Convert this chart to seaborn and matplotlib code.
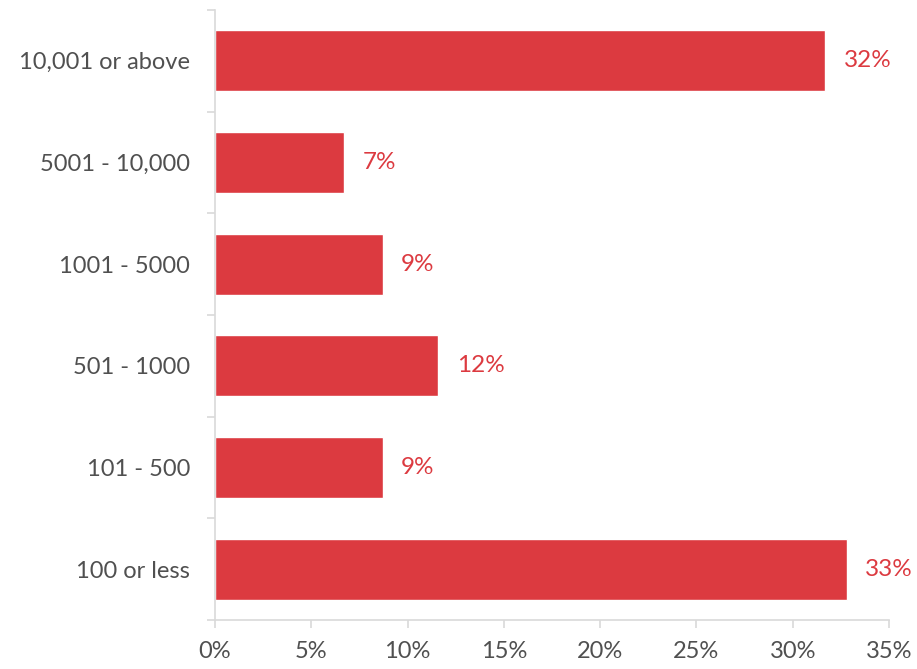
import matplotlib
matplotlib.use("Agg")
import matplotlib.pyplot as plt
import seaborn as sns
import pandas as pd
import numpy as np
from matplotlib.ticker import FixedLocator, PercentFormatter

categories = ["10,001 or above", "5001 - 10,000", "1001 - 5000", "501 - 1000", "101 - 500", "100 or less"]
shares = [31.7, 6.7, 8.7, 11.6, 8.7, 32.8]
x_ticks = [0, 5, 10, 15, 20, 25, 30, 35]

bar_color = "#DC3A40"
text_gray = "#505050"
axis_gray = "#D9D9D9"

sns.set_theme(style="white")
plt.rcParams["font.family"] = ["Lato", "DejaVu Sans"]

df = pd.DataFrame({"size": categories, "share": shares})

fig = plt.figure(figsize=(9.17, 6.69), dpi=100)
ax = fig.add_axes([0.2345, 0.0732, 0.735, 0.912])

sns.barplot(data=df, x="share", y="size", orient="h", color=bar_color,
            saturation=1, width=0.6, ax=ax)

ax.set_xlim(0, 35)
ax.set_ylim(len(categories) - 0.5, -0.5)
ax.xaxis.set_major_locator(FixedLocator(x_ticks))
ax.xaxis.set_major_formatter(PercentFormatter(decimals=0))

# category separators on the value axis
ax.yaxis.set_minor_locator(FixedLocator(np.arange(-0.5, len(categories), 1.0)))
ax.tick_params(axis="y", which="major", length=0, pad=18, labelsize=17, labelcolor=text_gray)
ax.tick_params(axis="y", which="minor", length=6, width=1.2, color=axis_gray, left=True)
ax.tick_params(axis="x", which="major", length=6, width=1.2, color=axis_gray, bottom=True,
               labelsize=17, labelcolor=text_gray, pad=9)

for side in ["top", "right"]:
    ax.spines[side].set_visible(False)
for side in ["left", "bottom"]:
    ax.spines[side].set_color(axis_gray)
    ax.spines[side].set_linewidth(1.2)

ax.set_xlabel("")
ax.set_ylabel("")

for i, v in enumerate(shares):
    ax.text(v + 0.95, i, f"{v:.0f}%", va="center", ha="left", color=bar_color, fontsize=17.5)

fig.savefig("out.png", dpi=100)
